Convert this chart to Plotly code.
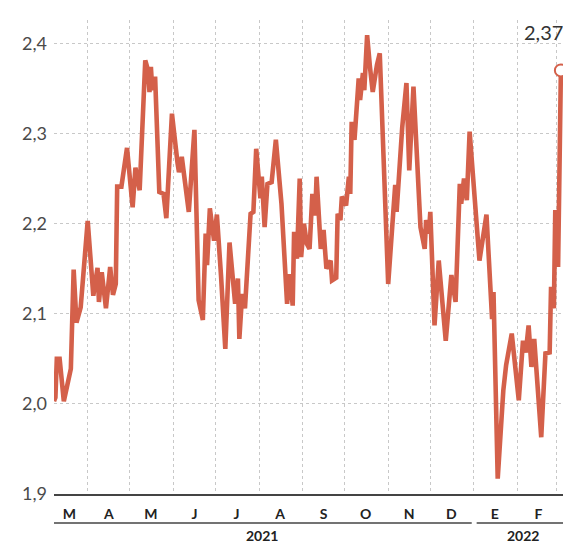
import plotly.graph_objects as go
from datetime import date, timedelta

# Daily yield series (%), March 2021 - March 2022
dates = [
    "2021-03-08", "2021-03-09", "2021-03-10", "2021-03-12", "2021-03-15", "2021-03-20",
    "2021-03-22", "2021-03-24", "2021-03-27", "2021-04-01", "2021-04-05", "2021-04-08",
    "2021-04-09", "2021-04-11", "2021-04-14", "2021-04-17", "2021-04-19", "2021-04-21",
    "2021-04-22", "2021-04-25", "2021-04-29", "2021-05-03", "2021-05-05", "2021-05-08",
    "2021-05-12", "2021-05-14", "2021-05-15", "2021-05-16", "2021-05-17", "2021-05-19",
    "2021-05-22", "2021-05-25", "2021-05-27", "2021-05-31", "2021-06-04", "2021-06-05",
    "2021-06-07", "2021-06-12", "2021-06-16", "2021-06-19", "2021-06-22", "2021-06-24",
    "2021-06-25", "2021-06-27", "2021-06-30", "2021-07-02", "2021-07-05", "2021-07-08",
    "2021-07-11", "2021-07-15", "2021-07-17", "2021-07-18", "2021-07-20", "2021-07-22",
    "2021-07-26", "2021-07-28", "2021-07-30", "2021-08-02", "2021-08-03", "2021-08-05",
    "2021-08-07", "2021-08-10", "2021-08-13", "2021-08-17", "2021-08-21", "2021-08-23",
    "2021-08-25", "2021-08-26", "2021-08-28", "2021-08-30", "2021-08-31", "2021-09-02",
    "2021-09-04", "2021-09-06", "2021-09-08", "2021-09-10", "2021-09-11", "2021-09-14",
    "2021-09-16", "2021-09-18", "2021-09-21", "2021-09-22", "2021-09-25", "2021-09-26",
    "2021-09-28", "2021-09-29", "2021-10-02", "2021-10-04", "2021-10-05", "2021-10-06",
    "2021-10-08", "2021-10-11", "2021-10-12", "2021-10-14", "2021-10-15", "2021-10-17",
    "2021-10-19", "2021-10-21", "2021-10-24", "2021-10-26", "2021-11-01", "2021-11-06",
    "2021-11-07", "2021-11-11", "2021-11-14", "2021-11-16", "2021-11-19", "2021-11-24",
    "2021-11-27", "2021-11-28", "2021-11-30", "2021-12-01", "2021-12-04", "2021-12-07",
    "2021-12-12", "2021-12-16", "2021-12-19", "2021-12-22", "2021-12-23", "2021-12-25",
    "2021-12-27", "2021-12-29", "2022-01-05", "2022-01-10", "2022-01-14", "2022-01-15",
    "2022-01-18", "2022-01-22", "2022-01-24", "2022-01-28", "2022-02-02", "2022-02-05",
    "2022-02-07", "2022-02-09", "2022-02-11", "2022-02-13", "2022-02-18", "2022-02-21",
    "2022-02-24", "2022-02-25", "2022-02-27", "2022-02-28", "2022-03-02", "2022-03-04",
]
values = [
    2.003, 2.007, 2.050, 2.050, 2.003, 2.039,
    2.149, 2.090, 2.107, 2.203, 2.120, 2.151,
    2.113, 2.146, 2.106, 2.152, 2.121, 2.133,
    2.241, 2.241, 2.284, 2.218, 2.262, 2.237,
    2.381, 2.370, 2.346, 2.374, 2.348, 2.363,
    2.235, 2.233, 2.206, 2.322, 2.267, 2.257,
    2.274, 2.213, 2.304, 2.115, 2.093, 2.189,
    2.154, 2.217, 2.181, 2.210, 2.141, 2.061,
    2.179, 2.111, 2.139, 2.072, 2.122, 2.106,
    2.211, 2.213, 2.283, 2.228, 2.252, 2.196,
    2.244, 2.246, 2.293, 2.222, 2.111, 2.144,
    2.109, 2.191, 2.161, 2.250, 2.163, 2.200,
    2.178, 2.172, 2.233, 2.209, 2.252, 2.172,
    2.193, 2.150, 2.159, 2.137, 2.140, 2.211,
    2.204, 2.230, 2.220, 2.252, 2.233, 2.313,
    2.293, 2.361, 2.337, 2.367, 2.348, 2.409,
    2.374, 2.346, 2.376, 2.389, 2.133, 2.243,
    2.213, 2.307, 2.356, 2.259, 2.352, 2.196,
    2.172, 2.204, 2.189, 2.213, 2.087, 2.159,
    2.070, 2.143, 2.113, 2.244, 2.222, 2.250,
    2.226, 2.302, 2.159, 2.210, 2.094, 2.124,
    1.917, 2.015, 2.043, 2.078, 2.004, 2.070,
    2.057, 2.087, 2.041, 2.072, 1.963, 2.056,
    2.057, 2.130, 2.106, 2.215, 2.152, 2.370,
]

# Axis ticks
y_ticks = [1.9, 2.0, 2.1, 2.2, 2.3, 2.4]
month_starts = [
    "2021-04-01", "2021-05-01", "2021-06-01", "2021-07-01", "2021-08-01", "2021-09-01",
    "2021-10-01", "2021-11-01", "2021-12-01", "2022-01-01", "2022-02-01", "2022-03-01",
]
month_label_dates = [
    "2021-03-19", "2021-04-16", "2021-05-16", "2021-06-16", "2021-07-16", "2021-08-16",
    "2021-09-16", "2021-10-16", "2021-11-16", "2021-12-16", "2022-01-16", "2022-02-16",
]
month_letters = ["M", "A", "M", "J", "J", "A", "S", "O", "N", "D", "E", "F"]
years = ["2021", "2022"]
year_label_dates = ["2021-08-03", "2022-02-05"]

x_range = ["2021-03-08", "2022-03-05 12:00"]

LINE = "#d4604a"
FONT = "Lato"

fig = go.Figure()
fig.add_trace(go.Scatter(
    x=dates, y=values, mode="lines",
    line=dict(color=LINE, width=4.6, shape="linear"),
    hoverinfo="skip", showlegend=False,
))
fig.add_trace(go.Scatter(
    x=[dates[-1]], y=[values[-1]], mode="markers",
    marker=dict(size=12, color="white", line=dict(color=LINE, width=2)),
    cliponaxis=False, hoverinfo="skip", showlegend=False,
))

last_label = f"{values[-1]:.2f}".replace(".", ",")
fig.add_annotation(
    x=dates[-1], y=values[-1], text=last_label, showarrow=False,
    xanchor="right", yanchor="bottom", xshift=4, yshift=24,
    font=dict(family=FONT, size=20, color="#333"),
)

# Year brackets below the month letters
new_year = date(2022, 1, 1)
bracket_spans = [
    (x_range[0], str(new_year - timedelta(days=2)) + " 12:00"),
    (str(new_year + timedelta(days=2)), x_range[1]),
]
for (x0, x1), yr, xl in zip(bracket_spans, years, year_label_dates):
    fig.add_shape(type="line", xref="x", yref="paper", x0=x0, x1=x1,
                  y0=-0.061, y1=-0.061, line=dict(color="#444", width=1.5))
    fig.add_annotation(x=xl, y=-0.087, xref="x", yref="paper", text=yr,
                       showarrow=False, yanchor="middle",
                       font=dict(family=FONT, size=14, color="#222", weight="bold"))

fig.update_layout(
    width=563, height=544,
    margin=dict(l=54, r=0, t=20, b=50),
    paper_bgcolor="white", plot_bgcolor="white",
    separators=",.",
    font=dict(family=FONT),
    xaxis=dict(
        type="date", range=x_range,
        tickmode="array", tickvals=month_label_dates, ticktext=month_letters,
        showgrid=False, ticks="", ticklabelstandoff=6,
        tickfont=dict(family=FONT, size=14, color="#222", weight="bold"),
        showline=True, linecolor="#444", linewidth=2, zeroline=False,
        minor=dict(tickmode="array", tickvals=month_starts, showgrid=True,
                   gridcolor="#c8c8c8", griddash="dot", gridwidth=1, ticks=""),
    ),
    yaxis=dict(
        range=[1.9, 2.4259], tickmode="array", tickvals=y_ticks, tickformat=".1f",
        showgrid=True, gridcolor="#c8c8c8", griddash="dot", gridwidth=1,
        ticks="", ticklabelstandoff=6, zeroline=False, showline=False,
        tickfont=dict(family=FONT, size=18, color="#4a4a4a"),
    ),
)

fig.write_html("out.html")
